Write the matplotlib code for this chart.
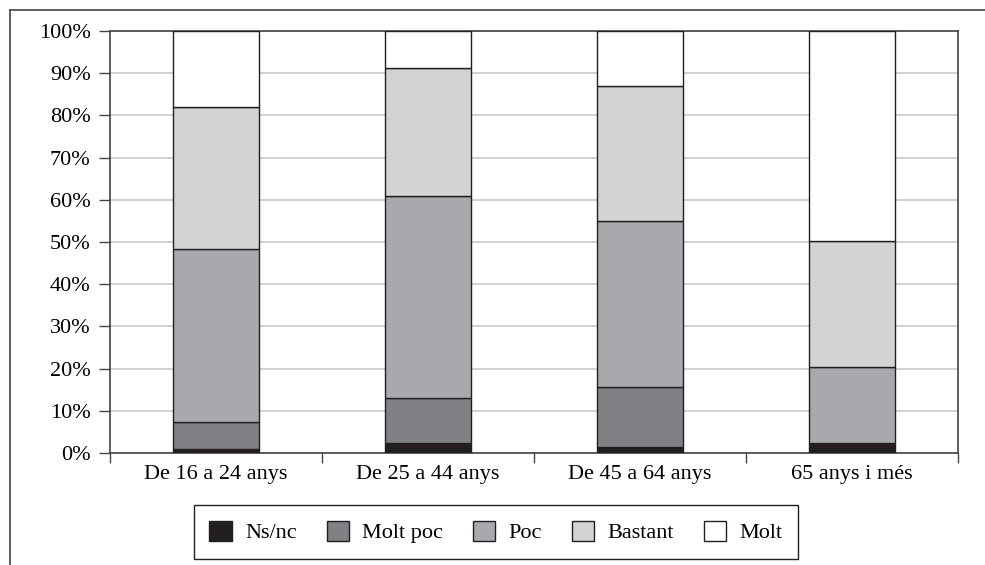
import matplotlib.pyplot as plt
from matplotlib.lines import Line2D
from matplotlib.ticker import FixedLocator, PercentFormatter
import numpy as np

plt.rcParams['font.family'] = ['Liberation Serif', 'DejaVu Serif']

grups = ['De 16 a 24 anys', 'De 25 a 44 anys', 'De 45 a 64 anys', '65 anys i més']
series = ['Ns/nc', 'Molt poc', 'Poc', 'Bastant', 'Molt']

ns_nc = [0.9, 2.3, 1.35, 2.3]
molt_poc = [6.4, 10.8, 14.35, 0.0]
poc = [41.0, 47.8, 39.3, 18.1]
bastant = [33.8, 30.4, 32.0, 29.8]
molt = [17.9, 8.7, 13.0, 49.8]

colors = ['#231f20', '#808184', '#a7a9ac', '#d1d3d4', '#ffffff']
edge = '#231f20'

fig = plt.figure(figsize=(9.85, 5.65), dpi=100)
ax = fig.add_axes([110 / 985, 1 - 453 / 565, 848 / 985, 422 / 565])

x = np.arange(len(grups))
bottom = np.zeros(len(grups))
for name, vals, c in zip(series, [ns_nc, molt_poc, poc, bastant, molt], colors):
    ax.bar(x, vals, width=0.41, bottom=bottom, color=c, edgecolor=edge,
           linewidth=1.0, label=name, zorder=3)
    bottom += np.array(vals)

ax.set_xlim(-0.5, len(grups) - 0.5)
ax.set_ylim(0, 100)
ax.set_yticks(np.arange(0, 101, 10))
ax.yaxis.set_major_formatter(PercentFormatter(decimals=0))
ax.set_xticks(x)
ax.set_xticklabels(grups)
ax.xaxis.set_minor_locator(FixedLocator(np.arange(-0.5, len(grups), 1)))
ax.tick_params(axis='x', which='major', length=0, pad=9, labelsize=16)
ax.tick_params(axis='x', which='minor', length=7, width=1, color='#444444', direction='out')
ax.tick_params(axis='y', length=8, width=1, color='#444444', pad=6, labelsize=16)
ax.yaxis.grid(True, color='#c8c8c8', linewidth=1.2, zorder=0)
ax.set_axisbelow(True)
for s in ax.spines.values():
    s.set_color('#444444')
    s.set_linewidth(1.2)

fig.legend(loc='center', bbox_to_anchor=(496 / 985, 1 - 532 / 565), ncol=5,
           fontsize=16, frameon=True, fancybox=False, edgecolor='#231f20',
           handlelength=1.0, handleheight=1.0, handletextpad=0.6,
           columnspacing=1.35, borderpad=0.7, borderaxespad=0, framealpha=1)

# marc exterior
fig.add_artist(Line2D([10 / 985, 10 / 985], [0, 1 - 10 / 565], color='#444444', linewidth=1.2))
fig.add_artist(Line2D([10 / 985, 1], [1 - 10 / 565, 1 - 10 / 565], color='#444444', linewidth=1.2))

fig.savefig('out.png', dpi=100)
